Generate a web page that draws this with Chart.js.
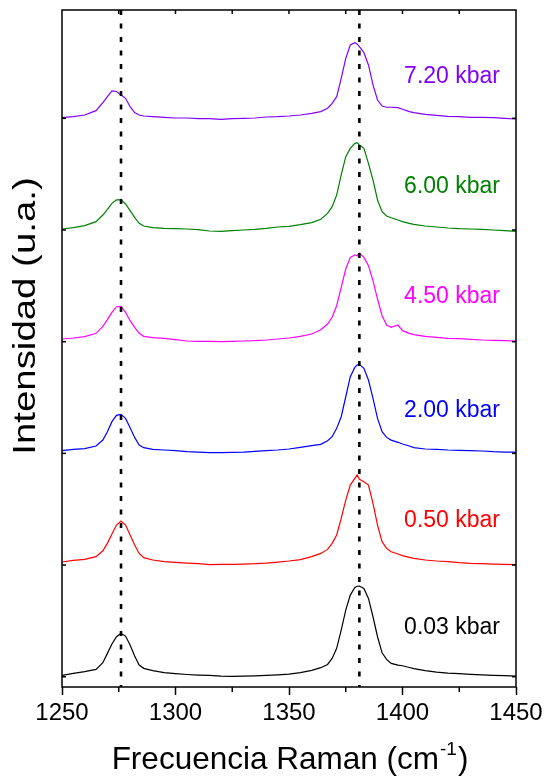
<!DOCTYPE html>
<html><head><meta charset="utf-8">
<script src="https://cdn.jsdelivr.net/npm/chart.js@4"></script>
<style>html,body{margin:0;padding:0;background:#fff}canvas{display:block}</style>
</head><body>
<canvas id="c" width="547" height="776"></canvas>
<script>
// ---- data ----
const wavenumbers = [1250,1255,1260,1265,1268,1270,1272,1274,1276,1278,1280,1282,1284,1286,
  1290,1295,1300,1305,1310,1315,1320,1325,1330,1335,1340,1345,1350,1355,1360,
  1364,1367,1369,1371,1373,1375,1377,1379,1380,1381,1383,1385,1387,1389,1391,1393,1395,
  1398,1400,1403,1405,1410,1415,1420,1425,1430,1435,1440,1445,1450];

const spec0_03 = [.012,.030,.045,.066,.125,.209,.293,.358,.388,.364,.284,.185,.104,.075,
  .054,.036,.027,.020,.015,.012,.006,.004,.006,.008,.012,.017,.024,.036,.057,
  .081,.110,.164,.254,.418,.597,.731,.800,.810,.812,.791,.701,.537,.358,.215,.155,.119,
  .104,.098,.083,.072,.054,.042,.033,.027,.021,.016,.012,.009,.006];
const spec0_50 = [.027,.042,.051,.075,.128,.194,.278,.358,.394,.358,.269,.179,.104,.066,
  .045,.030,.024,.018,.012,.003,.006,.006,.009,.012,.018,.027,.036,.048,.075,
  .104,.140,.194,.269,.418,.582,.716,.776,.806,.767,.746,.716,.552,.358,.209,.149,.119,
  .099,.084,.069,.060,.045,.036,.030,.021,.015,.012,.009,.006,.003];
const spec2_00 = [.024,.036,.042,.066,.119,.194,.284,.340,.349,.313,.230,.143,.075,.051,
  .036,.030,.024,.015,.012,.006,.006,.009,.012,.018,.024,.030,.039,.054,.069,
  .081,.113,.149,.224,.328,.507,.687,.770,.791,.797,.761,.657,.493,.313,.194,.143,.119,
  .099,.084,.066,.051,.039,.036,.030,.027,.024,.021,.015,.012,.012];
const spec4_50 = [.024,.033,.045,.075,.137,.197,.263,.313,.316,.263,.188,.128,.075,.048,
  .036,.030,.018,.006,.003,.003,.000,.003,.006,.009,.015,.024,.033,.048,.069,
  .107,.158,.218,.322,.487,.651,.755,.776,.770,.794,.755,.681,.546,.382,.233,.149,.128,
  .149,.099,.075,.063,.048,.039,.030,.027,.021,.015,.012,.009,.006];
const spec6_00 = [.009,.021,.039,.075,.134,.185,.239,.269,.269,.233,.173,.113,.060,.036,
  .021,.015,.012,.009,.003,-.009,-.012,-.006,.000,.006,.015,.027,.033,.048,.066,
  .096,.149,.209,.313,.493,.657,.731,.776,.782,.761,.731,.597,.448,.269,.164,.125,.110,
  .090,.075,.060,.051,.036,.027,.018,.012,.009,.006,.000,-.006,-.012];
const spec7_20 = [.006,.015,.030,.069,.140,.194,.245,.240,.209,.179,.104,.051,.030,.021,
  .015,.009,.003,.003,-.003,-.003,-.009,-.003,.000,.003,.012,.015,.021,.030,.045,
  .060,.090,.134,.194,.358,.537,.657,.678,.666,.642,.588,.478,.299,.164,.110,.099,.099,
  .096,.081,.060,.051,.036,.027,.018,.015,.009,.009,.006,.000,-.006];

const spectra = [spec0_03, spec0_50, spec2_00, spec4_50, spec6_00, spec7_20];
const pressureLabels = ['0.03 kbar','0.50 kbar','2.00 kbar','4.50 kbar','6.00 kbar','7.20 kbar'];
const offsets = [0, 1, 2, 3, 4, 5];
const markerLines = [1276, 1381];
const xTickValues = [1250, 1300, 1350, 1400, 1450];
const xMinorTicks = [1275, 1325, 1375, 1425];
const yTickValues = [0, 1, 2, 3, 4, 5];

// ---- styles / layout ----
const colors = ['#000000', '#FF0000', '#0000FF', '#FF00FF', '#008000', '#8000FF'];
const FONT = "'Liberation Sans', Arial, sans-serif";
const yMin = -0.092, yMax = 5.97;
const labelAnchorX = 1400.7;
const labelAnchorY = [0.436, 1.40, 2.38, 3.40, 4.39, 5.37];

const datasets = [];
markerLines.forEach(m => datasets.push({
  data: [{x: m, y: yMax}, {x: m, y: yMin}],
  borderColor: '#000', borderWidth: 2.6, borderDash: [5, 8.5],
  pointRadius: 0, tension: 0
}));
spectra.forEach((s, i) => datasets.push({
  data: wavenumbers.map((w, k) => ({x: w, y: s[k] + offsets[i]})),
  borderColor: colors[i], borderWidth: 1.2, pointRadius: 0, tension: 0
}));

const decor = {
  id: 'decor',
  afterDraw(chart) {
    const {ctx, chartArea: {left, right, top, bottom}, scales: {x, y}} = chart;
    ctx.save();
    ctx.strokeStyle = '#000'; ctx.lineWidth = 1.5;
    ctx.strokeRect(left, top, right - left, bottom - top);
    const ln = (a, b, c, d) => { ctx.beginPath(); ctx.moveTo(a, b); ctx.lineTo(c, d); ctx.stroke(); };
    for (let v = 1275; v < 1450; v += 25) { const p = x.getPixelForValue(v); ln(p, top, p, top + 4); }
    xMinorTicks.forEach(v => { const p = x.getPixelForValue(v); ln(p, bottom, p, bottom + 5); });
    yTickValues.forEach(t => { const p = y.getPixelForValue(t); ln(left, p, left + 4, p); ln(right - 4, p, right, p); });
    ctx.font = '23px ' + FONT; ctx.textAlign = 'left'; ctx.textBaseline = 'middle';
    pressureLabels.forEach((l, i) => {
      ctx.fillStyle = colors[i];
      ctx.fillText(l, x.getPixelForValue(labelAnchorX), y.getPixelForValue(labelAnchorY[i]));
    });
    ctx.fillStyle = '#000';
    ctx.save();
    ctx.translate(26, 316); ctx.rotate(-Math.PI / 2); ctx.scale(1.2, 1);
    ctx.font = '32px ' + FONT; ctx.textAlign = 'center'; ctx.textBaseline = 'middle';
    ctx.fillText('Intensidad (u.a.)', 0, 0);
    ctx.restore();
    const main = 'Frecuencia Raman (cm', sup = '-1', end = ')';
    ctx.font = '31.5px ' + FONT; const w1 = ctx.measureText(main).width, w3 = ctx.measureText(end).width;
    ctx.font = '19px ' + FONT; const w2 = ctx.measureText(sup).width;
    let sx = (left + right) / 2 - (w1 + w2 + w3) / 2;
    ctx.textAlign = 'left'; ctx.textBaseline = 'alphabetic';
    ctx.font = '31.5px ' + FONT; ctx.fillText(main, sx, 769);
    ctx.font = '19px ' + FONT; ctx.fillText(sup, sx + w1 + 1, 755);
    ctx.font = '31.5px ' + FONT; ctx.fillText(end, sx + w1 + w2 + 2, 769);
    ctx.restore();
  }
};

new Chart(document.getElementById('c'), {
  type: 'line',
  data: {datasets},
  options: {
    responsive: false, animation: false, devicePixelRatio: 1,
    layout: {padding: {left: 0, top: 10, right: 31, bottom: 0}},
    plugins: {legend: {display: false}, tooltip: {enabled: false}},
    scales: {
      x: {
        type: 'linear', min: 1250, max: 1450,
        afterBuildTicks: s => { s.ticks = xTickValues.map(v => ({value: v})); },
        ticks: {color: '#000', font: {size: 24, family: FONT}, padding: 4, maxRotation: 0, autoSkip: false,
          callback: v => String(v)},
        grid: {drawOnChartArea: false, tickLength: 8, tickColor: '#000', tickWidth: 1.5},
        border: {display: false},
        afterFit: s => { s.height = 89; }
      },
      y: {
        type: 'linear', min: yMin, max: yMax,
        ticks: {display: false}, grid: {display: false}, border: {display: false},
        afterFit: s => { s.width = 62; }
      }
    }
  },
  plugins: [decor]
});
</script>
</body></html>
